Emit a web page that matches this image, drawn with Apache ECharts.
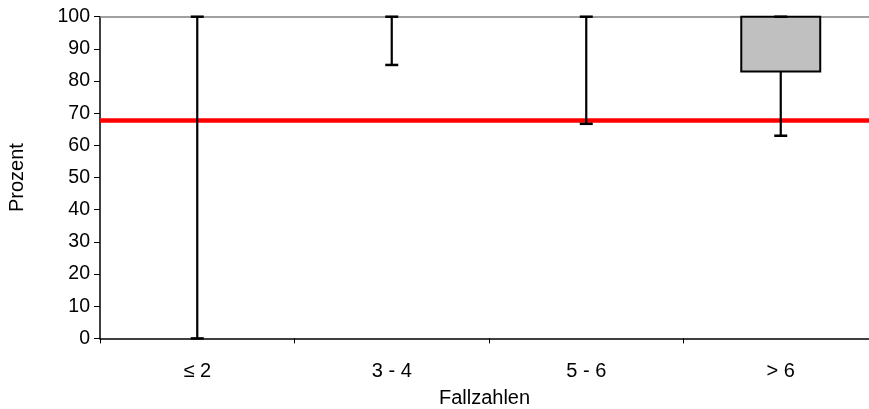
<!DOCTYPE html>
<html>
<head>
<meta charset="utf-8">
<script src="https://cdn.jsdelivr.net/npm/echarts@6/dist/echarts.min.js"></script>
<style>html,body{margin:0;padding:0;background:#fff;}#c{width:869px;height:409px;}</style>
</head>
<body>
<div id="c"></div>
<script>
// Data
const categories = ['≤ 2', '3 - 4', '5 - 6', '> 6'];
const whiskerLow = [0, 85, 66.7, 63];
const boxBottom = [100, 100, 100, 83];
const boxTop = [100, 100, 100, 100];
const whiskerHigh = [100, 100, 100, 100];
const referenceValue = 67.7;
const yTicks = [0, 10, 20, 30, 40, 50, 60, 70, 80, 90, 100];

const FONT = '"Liberation Sans", Arial, sans-serif';
const seriesData = categories.map((c, i) => [i, whiskerLow[i], boxBottom[i], boxTop[i], whiskerHigh[i]]);
const catPositions = categories.map((c, i) => i);
const catBoundaries = categories.map((c, i) => i - 0.5);

// the plot area of the original continues past the right edge of the picture
const GRID_LEFT = 100, GRID_RIGHT_EDGE = 869, BAND = 194.5;
const xMax = -0.5 + (GRID_RIGHT_EDGE - GRID_LEFT) / BAND;

const chart = echarts.init(document.getElementById('c'), null, {renderer: 'canvas'});
chart.setOption({
  animation: false,
  backgroundColor: '#ffffff',
  textStyle: {fontFamily: FONT},
  grid: {left: GRID_LEFT, top: 16.7, right: 0, height: 321.7, containLabel: false, outerBoundsMode: 'none'},
  xAxis: {
    type: 'value',
    min: -0.5,
    max: xMax,
    name: 'Fallzahlen',
    nameLocation: 'middle',
    nameGap: 50,
    nameTextStyle: {fontFamily: FONT, fontSize: 20, color: '#000'},
    axisLine: {show: true, onZero: false, lineStyle: {color: '#000', width: 1.5}},
    axisTick: {show: true, length: 5, customValues: catBoundaries, lineStyle: {color: '#000', width: 1}},
    axisLabel: {fontFamily: FONT, fontSize: 20, color: '#000', margin: 23,
      customValues: catPositions,
      formatter: function (v) { return categories[Math.round(v)] || ''; }},
    splitLine: {show: false}
  },
  yAxis: {
    type: 'value',
    min: yTicks[0],
    max: yTicks[yTicks.length - 1],
    interval: 10,
    name: 'Prozent',
    nameLocation: 'middle',
    nameGap: 73,
    nameRotate: 90,
    nameTextStyle: {fontFamily: FONT, fontSize: 20, color: '#000'},
    axisLine: {show: true, onZero: false, lineStyle: {color: '#000', width: 1.5}},
    axisTick: {show: true, inside: false, length: 6, lineStyle: {color: '#000', width: 1}},
    axisLabel: {fontFamily: FONT, fontSize: 19.5, color: '#000', margin: 10},
    splitLine: {show: false}
  },
  series: [{
    type: 'custom',
    data: seriesData,
    z: 5,
    clip: false,
    renderItem: function (params, api) {
      const idx = api.value(0);
      const x = api.coord([idx, 0])[0];
      const band = api.size([1, 0])[0];
      const yLow = api.coord([idx, api.value(1)])[1];
      const yQ1 = api.coord([idx, api.value(2)])[1];
      const yQ3 = api.coord([idx, api.value(3)])[1];
      const yHigh = api.coord([idx, api.value(4)])[1];
      const bw = band * 0.406;
      const cw = 13;
      const children = [];
      children.push({type: 'line', shape: {x1: x, y1: yLow, x2: x, y2: yHigh}, style: {stroke: '#000', lineWidth: 2.2}});
      if (Math.abs(yQ1 - yQ3) > 0.5) {
        children.push({type: 'rect', shape: {x: x - bw / 2, y: yQ3, width: bw, height: yQ1 - yQ3},
          style: {fill: '#c0c0c0', stroke: '#000', lineWidth: 2}});
      }
      children.push({type: 'line', shape: {x1: x - cw / 2, y1: yLow, x2: x + cw / 2, y2: yLow}, style: {stroke: '#000', lineWidth: 2.5}});
      children.push({type: 'line', shape: {x1: x - cw / 2, y1: yHigh, x2: x + cw / 2, y2: yHigh}, style: {stroke: '#000', lineWidth: 2.5}});
      return {type: 'group', children: children};
    },
    markLine: {
      silent: true,
      symbol: 'none',
      label: {show: false},
      z: 1,
      data: [
        {yAxis: 100, lineStyle: {color: '#808080', width: 1.5, type: 'solid'}},
        {yAxis: referenceValue, lineStyle: {color: '#ff0000', width: 4.5, type: 'solid'}}
      ]
    }
  }]
});
</script>
</body>
</html>
